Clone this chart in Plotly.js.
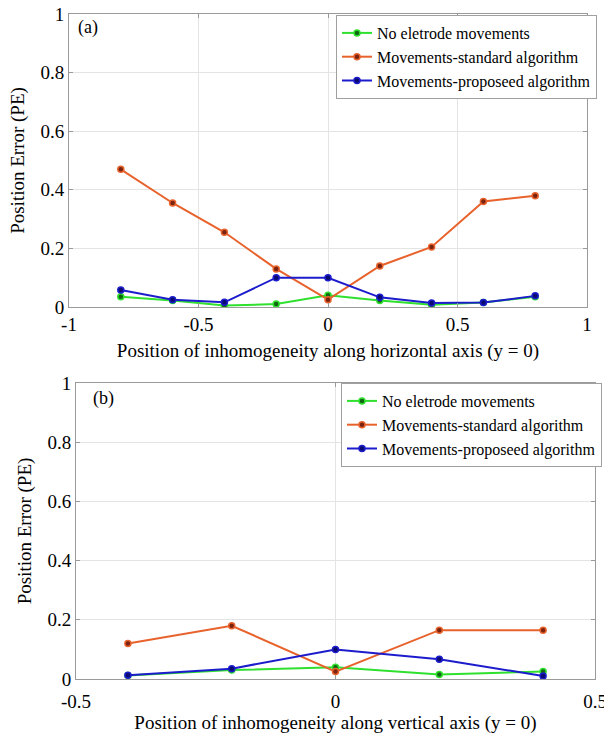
<!DOCTYPE html>
<html>
<head>
<meta charset="utf-8">
<script src="https://cdn.plot.ly/plotly-3.0.1.min.js"></script>
<style>
html,body{margin:0;padding:0;background:#fff;}
#chart{width:604px;height:734px;}
</style>
</head>
<body>
<div id="chart"></div>
<script>
// ---- Data ----
const seriesNames = ['No eletrode movements', 'Movements-standard algorithm', 'Movements-proposeed algorithm'];

// Panel (a): horizontal axis
const xA = [-0.8, -0.6, -0.4, -0.2, 0, 0.2, 0.4, 0.6, 0.8];
const noMoveA   = [0.035, 0.022, 0.005, 0.010, 0.040, 0.022, 0.008, 0.015, 0.035];
const standardA = [0.470, 0.355, 0.255, 0.130, 0.025, 0.140, 0.205, 0.360, 0.380];
const proposedA = [0.058, 0.025, 0.016, 0.100, 0.100, 0.033, 0.014, 0.015, 0.038];

// Panel (b): vertical axis
const xB = [-0.4, -0.2, 0, 0.2, 0.4];
const noMoveB   = [0.012, 0.030, 0.040, 0.015, 0.025];
const standardB = [0.120, 0.180, 0.025, 0.165, 0.165];
const proposedB = [0.013, 0.035, 0.100, 0.067, 0.010];

// Tick labels
const xTickValsA = [-1, -0.5, 0, 0.5, 1];
const xTickTextA = ['-1', '-0.5', '0', '0.5', '1'];
const xTickValsB = [-0.5, 0, 0.5];
const xTickTextB = ['-0.5', '0', '0.5'];
const yTickVals = [0, 0.2, 0.4, 0.6, 0.8, 1];
const yTickText = ['0', '0.2', '0.4', '0.6', '0.8', '1'];

// ---- Styles ----
const lineColors = ['#2fe02f', '#e8622c', '#1c1ccc'];
const markerColors = ['#126612', '#7a2410', '#0a0a70'];
const FONT = 'Liberation Serif';

function mk(x, y, i, xa, ya, leg) {
  return {
    x: x, y: y, type: 'scatter', mode: 'lines+markers',
    name: seriesNames[i], xaxis: xa, yaxis: ya, legend: leg,
    line: {color: lineColors[i], width: 2},
    marker: {color: markerColors[i], size: 6, line: {color: lineColors[i], width: 1.5}}
  };
}

const data = [
  mk(xA, noMoveA, 0, 'x', 'y', 'legend'),
  mk(xA, standardA, 1, 'x', 'y', 'legend'),
  mk(xA, proposedA, 2, 'x', 'y', 'legend'),
  mk(xB, noMoveB, 0, 'x2', 'y2', 'legend2'),
  mk(xB, standardB, 1, 'x2', 'y2', 'legend2'),
  mk(xB, proposedB, 2, 'x2', 'y2', 'legend2')
];

const axisCommon = {
  showgrid: true, gridcolor: '#e4e4e4', gridwidth: 1,
  showline: true, linecolor: '#9a9a9a', linewidth: 1, mirror: 'ticks',
  ticks: 'inside', ticklen: 4, tickcolor: '#9a9a9a',
  zeroline: false, fixedrange: true, ticklabeloverflow: 'allow', automargin: false,
  tickfont: {family: FONT, size: 19, color: '#000'}
};

const W = 604, H = 734;
function dx(a, b) { return [a / W, b / W]; }
function dy(top, bottom) { return [(H - bottom) / H, (H - top) / H]; }
const titleFont = {family: FONT, size: 19, color: '#000'};

const layout = {
  width: W, height: H,
  margin: {l: 0, r: 0, t: 0, b: 0, autoexpand: false},
  paper_bgcolor: '#fff', plot_bgcolor: '#fff',
  showlegend: true,
  font: {family: FONT, color: '#000'},
  xaxis: Object.assign({}, axisCommon, {
    domain: dx(69, 587), range: [-1, 1], anchor: 'y',
    tickvals: xTickValsA, ticktext: xTickTextA,
    title: {text: 'Position of inhomogeneity along horizontal axis (y = 0)', font: titleFont, standoff: 9}
  }),
  yaxis: Object.assign({}, axisCommon, {
    domain: dy(14, 307), range: [0, 1], anchor: 'x',
    tickvals: yTickVals, ticktext: yTickText,
    title: {text: 'Position Error (PE)', font: titleFont, standoff: 10}
  }),
  xaxis2: Object.assign({}, axisCommon, {
    domain: dx(76, 595), range: [-0.5, 0.5], anchor: 'y2',
    tickvals: xTickValsB, ticktext: xTickTextB, ticklabelstandoff: 5,
    title: {text: 'Position of inhomogeneity along vertical axis (y = 0)', font: titleFont, standoff: 8}
  }),
  yaxis2: Object.assign({}, axisCommon, {
    domain: dy(383, 679), range: [0, 1], anchor: 'x2',
    tickvals: yTickVals, ticktext: yTickText,
    title: {text: 'Position Error (PE)', font: titleFont, standoff: 10}
  }),
  legend: {
    x: 336 / W, y: (H - 15) / H, xanchor: 'left', yanchor: 'top',
    bgcolor: '#fff', bordercolor: '#a0a0a0', borderwidth: 1,
    font: {family: FONT, size: 16, color: '#000'},
    itemwidth: 30, tracegroupgap: 0
  },
  legend2: {
    x: 341 / W, y: (H - 383) / H, xanchor: 'left', yanchor: 'top',
    bgcolor: '#fff', bordercolor: '#a0a0a0', borderwidth: 1,
    font: {family: FONT, size: 16, color: '#000'},
    itemwidth: 30, tracegroupgap: 0
  },
  annotations: [
    {text: '(a)', xref: 'x domain', yref: 'y domain', x: 0.014, y: 0.953, xanchor: 'left', yanchor: 'middle', showarrow: false, font: {family: FONT, size: 18, color: '#000'}},
    {text: '(b)', xref: 'x2 domain', yref: 'y2 domain', x: 0.028, y: 0.948, xanchor: 'left', yanchor: 'middle', showarrow: false, font: {family: FONT, size: 18, color: '#000'}}
  ]
};

Plotly.newPlot('chart', data, layout, {displayModeBar: false, staticPlot: true});
</script>
</body>
</html>
